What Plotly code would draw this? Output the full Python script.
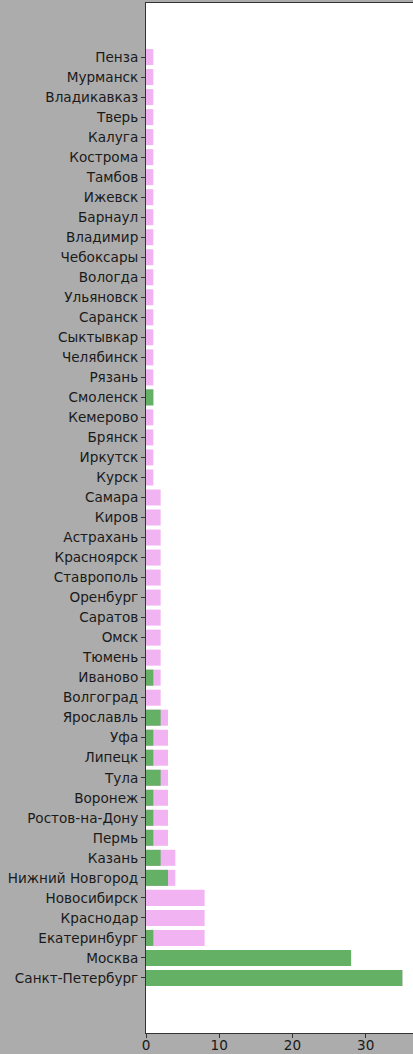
import plotly.graph_objects as go

cities = ["Санкт-Петербург", "Москва", "Екатеринбург", "Краснодар", "Новосибирск",
          "Нижний Новгород", "Казань", "Пермь", "Ростов-на-Дону", "Воронеж", "Тула",
          "Липецк", "Уфа", "Ярославль", "Волгоград", "Иваново", "Тюмень", "Омск",
          "Саратов", "Оренбург", "Ставрополь", "Красноярск", "Астрахань", "Киров",
          "Самара", "Курск", "Иркутск", "Брянск", "Кемерово", "Смоленск", "Рязань",
          "Челябинск", "Сыктывкар", "Саранск", "Ульяновск", "Вологда", "Чебоксары",
          "Владимир", "Барнаул", "Ижевск", "Тамбов", "Кострома", "Калуга", "Тверь",
          "Владикавказ", "Мурманск", "Пенза"]

total = [35, 28, 8, 8, 8, 4, 4, 3, 3, 3, 3, 3, 3, 3, 2, 2, 2, 2, 2, 2, 2, 2, 2, 2, 2,
         1, 1, 1, 1, 1, 1, 1, 1, 1, 1, 1, 1, 1, 1, 1, 1, 1, 1, 1, 1, 1, 1]
subset = [35, 28, 1, 0, 0, 3, 2, 1, 1, 1, 2, 1, 1, 2, 0, 1, 0, 0, 0, 0, 0, 0, 0, 0, 0,
          0, 0, 0, 0, 1, 0, 0, 0, 0, 0, 0, 0, 0, 0, 0, 0, 0, 0, 0, 0, 0, 0]
x_ticks = [0, 10, 20, 30]

idx = list(range(len(cities)))
x_range = [0, 36.45]

fig = go.Figure()
fig.add_trace(go.Bar(y=idx, x=total, orientation="h", width=0.8,
                     marker=dict(color="#f2b3f2", line=dict(width=0)), showlegend=False))
fig.add_trace(go.Bar(y=idx, x=subset, orientation="h", width=0.8,
                     marker=dict(color="#64b064", line=dict(width=0)), showlegend=False))

fig.update_layout(
    width=413, height=1054,
    barmode="overlay",
    paper_bgcolor="#acacac",
    plot_bgcolor="white",
    margin=dict(l=146, r=0, t=3, b=21, autoexpand=False),
    font=dict(family="DejaVu Sans", size=13.6, color="#1a1a1a"),
    xaxis=dict(range=x_range, tickvals=x_ticks, showgrid=False, zeroline=False,
               ticks="", showline=True,
               linecolor="#333333", linewidth=1, mirror=True, automargin=False),
    xaxis2=dict(range=x_range, tickvals=x_ticks, overlaying="x", side="bottom",
                showgrid=False, zeroline=False, ticks="outside", ticklen=4,
                tickcolor="#333333", showticklabels=False, showline=False,
                automargin=False),
    yaxis=dict(range=[-2.75, 48.7], tickvals=idx, ticktext=cities, showgrid=False,
               zeroline=False, ticks="outside", ticklen=4, tickcolor="#333333",
               showline=True, linecolor="#333333", linewidth=1, mirror=True,
               automargin=False),
)
# invisible trace to activate the tick-only overlay axis
fig.add_trace(go.Scatter(x=x_range, y=[None, None], xaxis="x2", mode="markers",
                         showlegend=False, hoverinfo="skip"))

fig.write_html("out.html", config={"displayModeBar": False},
               post_script="document.body.style.margin='0';document.body.style.overflow='hidden';")
